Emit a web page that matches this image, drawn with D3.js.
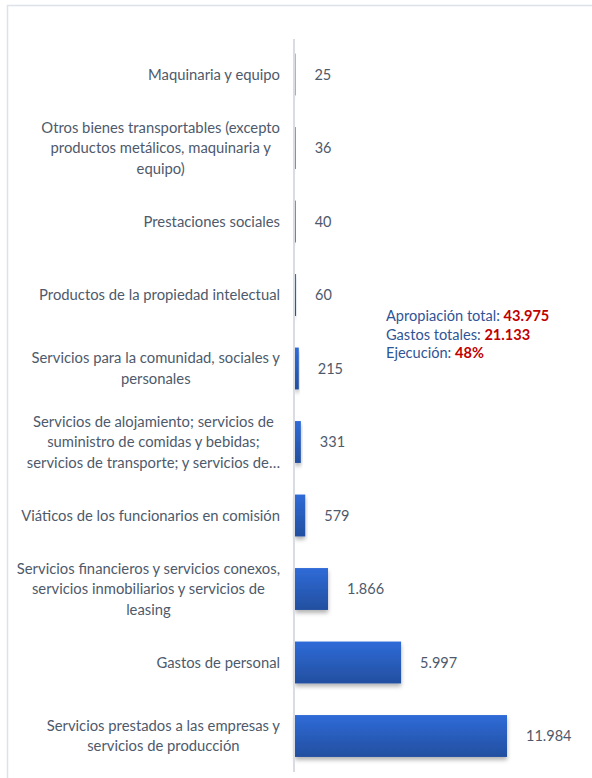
<!DOCTYPE html>
<html><head><meta charset="utf-8">
<script src="https://cdn.jsdelivr.net/npm/d3@7/dist/d3.min.js"></script>
<style>
html,body{margin:0;padding:0;background:#fff;}
svg{display:block;}
</style></head>
<body>
<svg id="chart" width="592" height="778"></svg>
<script>
const categories = [
  ["Maquinaria y equipo"],
  ["Otros bienes transportables (excepto", "productos metálicos, maquinaria y", "equipo)"],
  ["Prestaciones sociales"],
  ["Productos de la propiedad intelectual"],
  ["Servicios para la comunidad, sociales y", "personales"],
  ["Servicios de alojamiento; servicios de", "suministro de comidas y bebidas;", "servicios de transporte; y servicios de…"],
  ["Viáticos de los funcionarios en comisión"],
  ["Servicios financieros y servicios conexos,", "servicios inmobiliarios y servicios de", "leasing"],
  ["Gastos de personal"],
  ["Servicios prestados a las empresas y", "servicios de producción"]
];
const values = [25, 36, 40, 60, 215, 331, 579, 1866, 5997, 11984];
const summaryLabels = ["Apropiación total: ", "Gastos totales: ", "Ejecución: "];
const summaryValues = ["43.975", "21.133", "48%"];

const svg = d3.select("#chart");
const FONT = "Lato, 'Open Sans', sans-serif";
const TEXT = "#4e5a6b";

// frame
svg.append("rect").attr("x", 7.5).attr("y", 5.5).attr("width", 700).attr("height", 900)
  .attr("fill", "none").attr("stroke", "#dde2ea").attr("stroke-width", 1.5);

const defs = svg.append("defs");
const grad = defs.append("linearGradient").attr("id", "barGrad").attr("x1", 0).attr("y1", 0).attr("x2", 0).attr("y2", 1);
grad.append("stop").attr("offset", "0%").attr("stop-color", "#2f6bd8");
grad.append("stop").attr("offset", "100%").attr("stop-color", "#224f9f");
const f = defs.append("filter").attr("id", "shadow").attr("x", "-20%").attr("y", "-20%").attr("width", "140%").attr("height", "160%");
f.append("feDropShadow").attr("dx", 0).attr("dy", 3).attr("stdDeviation", 2).attr("flood-color", "#000").attr("flood-opacity", 0.3);

const x0 = 295;
const x = d3.scaleLinear().domain([0, 11984]).range([x0, 507]);
const y = d3.scaleBand().domain(d3.range(categories.length)).range([37.75, 772.75]).paddingInner(0.43).paddingOuter(0.215);

const loc = d3.formatLocale({decimal: ",", thousands: ".", grouping: [3], currency: ["$", ""]});
const fmt = loc.format(",d");

// bars
svg.append("g").selectAll("rect").data(values).join("rect")
  .attr("x", x0)
  .attr("y", (d, i) => y(i))
  .attr("width", d => x(d) - x0)
  .attr("height", y.bandwidth())
  .attr("fill", "url(#barGrad)")
  .attr("filter", "url(#shadow)");

// axis line
svg.append("line").attr("x1", 294).attr("x2", 294).attr("y1", 39).attr("y2", 772)
  .attr("stroke", "#d9dde3").attr("stroke-width", 2);

// value labels
svg.append("g").selectAll("text").data(values).join("text")
  .attr("x", d => x(d) + 19)
  .attr("y", (d, i) => y(i) + y.bandwidth() / 2)
  .attr("dy", "0.35em")
  .attr("font-family", FONT).attr("font-size", 14.5).attr("fill", TEXT)
  .text(d => fmt(d));

// category labels
const lineH = 20.5;
const labelG = svg.append("g");
categories.forEach((lines, i) => {
  const cy = y(i) + y.bandwidth() / 2;
  const t = labelG.append("text")
    .attr("font-family", FONT).attr("font-size", 14.8).attr("fill", TEXT)
    .attr("text-anchor", "middle");
  const n = lines.length;
  const spans = lines.map((l, j) => t.append("tspan").attr("y", cy + (j - (n - 1) / 2) * lineH).attr("dy", "0.35em").text(l));
  const w = d3.max(spans, s => s.node().getComputedTextLength());
  spans.forEach(s => s.attr("x", 280 - w / 2));
});

// summary annotation
const sg = svg.append("g");
summaryLabels.forEach((lab, i) => {
  const t = sg.append("text").attr("x", 386).attr("y", 321 + i * 18.5)
    .attr("font-family", FONT).attr("font-size", 14.6);
  t.append("tspan").attr("fill", "#2f5597").text(lab);
  t.append("tspan").attr("fill", "#c00000").attr("font-weight", "bold").text(summaryValues[i]);
});
</script>
</body></html>
